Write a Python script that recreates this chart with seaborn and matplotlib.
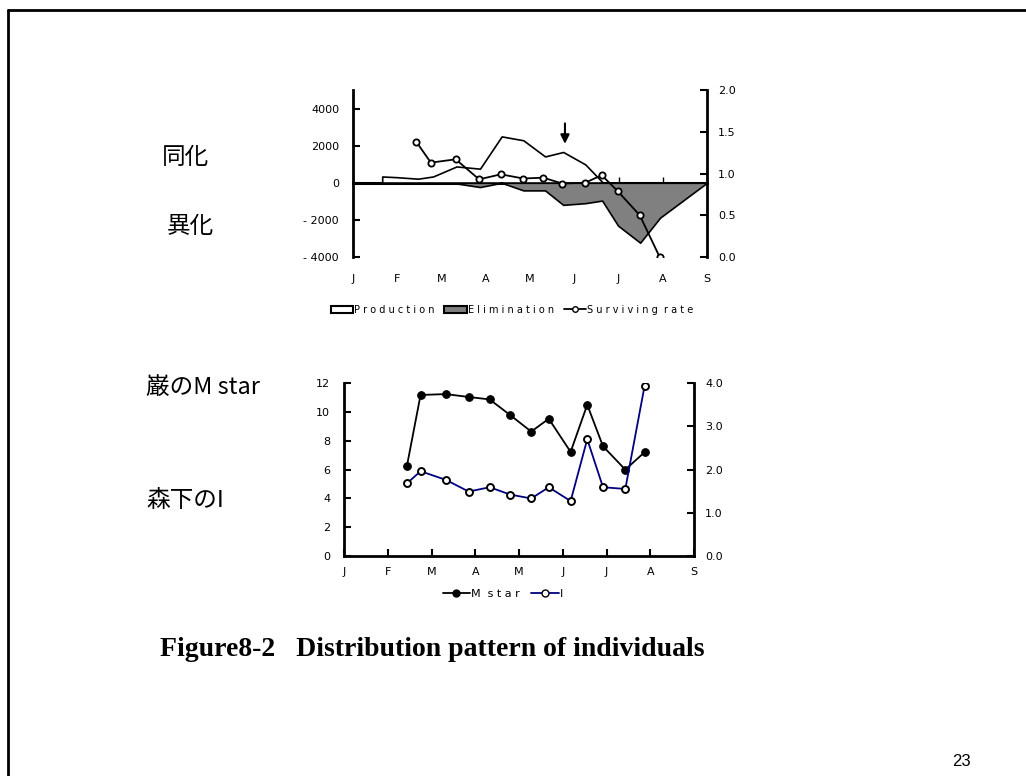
import numpy as np
import pandas as pd
import matplotlib
matplotlib.use("Agg")
import matplotlib.pyplot as plt
from matplotlib.patches import Patch
from matplotlib.lines import Line2D
from matplotlib import font_manager
import seaborn as sns

# ---------------- data ----------------
month_labels = ["J", "F", "M", "A", "M", "J", "J", "A", "S"]

prod_months = [0.66, 1.0, 1.47, 1.81, 2.34, 2.87, 3.36, 3.85, 4.34, 4.75, 5.25, 5.65, 8.0]
production = [340, 300, 220, 340, 880, 760, 2500, 2290, 1420, 1660, 990, 0, 0]

elim_months = [0.66, 2.35, 2.87, 3.36, 3.85, 4.34, 4.75, 5.25, 5.63, 5.99, 6.49, 6.94, 8.0]
elimination = [-40, -40, -230, 0, -410, -410, -1190, -1100, -960, -2310, -3230, -1880, 0]

surv_months = [1.43, 1.76, 2.32, 2.85, 3.34, 3.85, 4.30, 4.73, 5.25, 5.62, 5.98, 6.48, 6.93]
surviving_rate = [1.38, 1.13, 1.17, 0.93, 0.99, 0.94, 0.95, 0.88, 0.89, 0.98, 0.79, 0.50, 0.0]

arrow_month = 4.79
arrow_tip, arrow_tail = 2100, 3200

sample_months = [1.44, 1.75, 2.33, 2.85, 3.33, 3.80, 4.28, 4.68, 5.18, 5.56, 5.92, 6.43, 6.87]
m_star = [6.27, 11.17, 11.23, 11.03, 10.86, 9.77, 8.63, 9.52, 7.22, 10.49, 7.61, 5.99, 7.20]
i_index = [1.68, 1.96, 1.76, 1.49, 1.59, 1.42, 1.33, 1.59, 1.27, 2.70, 1.59, 1.55, 3.93]

top_left_ticks = [-4000, -2000, 0, 2000, 4000]
top_right_ticks = [0.0, 0.5, 1.0, 1.5, 2.0]
bot_left_ticks = [0, 2, 4, 6, 8, 10, 12]
bot_right_ticks = [0.0, 1.0, 2.0, 3.0, 4.0]

# ---------------- style ----------------
sns.set_style("white")
names = {f.name for f in font_manager.fontManager.ttflist}
narrow = "Liberation Sans Narrow" if "Liberation Sans Narrow" in names else "DejaVu Sans"
plt.rcParams['font.family'] = ["Noto Sans CJK JP", "DejaVu Sans"]
plt.rcParams['text.color'] = "black"
plt.rcParams['xtick.color'] = "black"
plt.rcParams['ytick.color'] = "black"
plt.rcParams['axes.labelcolor'] = "black"

W, H = 1026, 776
fig = plt.figure(figsize=(W / 100, H / 100), dpi=100)
fig.patch.set_facecolor("white")

def fx(px):
    return px / W

def fy(py):
    return 1 - py / H

def style_ticklabels(ax):
    for lab in ax.get_xticklabels() + ax.get_yticklabels():
        lab.set_fontfamily(narrow)
        lab.set_fontsize(8)
        lab.set_color("black")

# ---------------- top chart ----------------
ax1 = fig.add_axes([fx(353), fy(257), fx(707) - fx(353), fy(90) - fy(257)])
ax1.set_facecolor("none")
ax1.set_xlim(0, 8)
ax1.set_ylim(-4000, 5000)
ax1.fill_between(prod_months, 0, production, facecolor="white", edgecolor="black", linewidth=1.2, zorder=2)
ax1.fill_between(elim_months, 0, elimination, facecolor="#808080", edgecolor="black", linewidth=1.2, zorder=2)
ax1.annotate("", xy=(arrow_month, arrow_tip), xytext=(arrow_month, arrow_tail),
             arrowprops=dict(arrowstyle="-|>", color="black", lw=1.5, mutation_scale=13,
                             shrinkA=0, shrinkB=0), zorder=5)
for s in ["top", "bottom"]:
    ax1.spines[s].set_visible(False)
ax1.spines["left"].set_linewidth(2)
ax1.spines["left"].set_color("black")
ax1.spines["right"].set_visible(False)
ax1.set_yticks(top_left_ticks)
ax1.set_yticklabels([f"{v}" if v >= 0 else f"- {abs(v)}" for v in top_left_ticks])
ax1.set_xticks(range(len(month_labels)))
ax1.set_xticklabels(month_labels)
ax1.tick_params(axis="x", length=0, pad=12)
ax1.tick_params(axis="y", direction="in", length=5, width=1.5, left=True, pad=10)
style_ticklabels(ax1)

zero_frac = (0 - (-4000)) / (5000 - (-4000))
sec = ax1.secondary_xaxis(zero_frac)
sec.set_xticks(range(len(month_labels)))
sec.set_xticklabels([""] * len(month_labels))
sec.tick_params(axis="x", direction="in", length=4, width=1, top=False)
sec.spines["bottom"].set_linewidth(2.2)
sec.spines["bottom"].set_color("black")

ax1r = ax1.twinx()
ax1r.set_ylim(0, 2.0)
sns.lineplot(x=surv_months, y=surviving_rate, ax=ax1r, color="black", linewidth=1.3,
             marker="o", markersize=4.5, markerfacecolor="white", markeredgecolor="black",
             markeredgewidth=1.3, zorder=6)
ax1r.set_yticks(top_right_ticks)
ax1r.set_yticklabels([f"{v:.1f}" for v in top_right_ticks])
ax1r.tick_params(axis="y", direction="in", length=5, width=1.5, right=True, left=False, pad=8)
for s in ["top", "bottom", "left"]:
    ax1r.spines[s].set_visible(False)
ax1r.spines["right"].set_linewidth(2)
ax1r.spines["right"].set_color("black")
ax1r.set_ylabel("")
style_ticklabels(ax1r)

handles_top = [Patch(facecolor="white", edgecolor="black", linewidth=1.5),
               Patch(facecolor="#808080", edgecolor="black", linewidth=1.5),
               Line2D([0], [0], color="black", lw=1.3, marker="o", markersize=4,
                      markerfacecolor="white", markeredgecolor="black")]
fig.legend(handles_top, ["P r o d u c t i o n", "E l i m i n a t i o n", "S u r v i v i n g  r a t e"],
           loc="center", bbox_to_anchor=(fx(512), fy(310)), ncol=3, frameon=False,
           prop=dict(family=narrow, size=7), handlelength=2.3, handleheight=0.8,
           handletextpad=0.1, columnspacing=1.0, labelcolor="black")

# ---------------- bottom chart ----------------
ax2 = fig.add_axes([fx(344), fy(556), fx(694) - fx(344), fy(383) - fy(556)])
ax2.set_facecolor("none")
ax2.set_xlim(0, 8)
ax2.set_ylim(0, 12)
sns.lineplot(x=sample_months, y=m_star, ax=ax2, color="black", linewidth=1.3,
             marker="o", markersize=5.5, markerfacecolor="black", markeredgecolor="black", zorder=4)
ax2.set_yticks(bot_left_ticks)
ax2.set_xticks(range(len(month_labels)))
ax2.set_xticklabels(month_labels)
ax2.tick_params(axis="x", direction="in", length=5, width=1.5, bottom=True, pad=8)
ax2.tick_params(axis="y", direction="in", length=5, width=1.5, left=True, pad=10)
ax2.spines["top"].set_visible(False)
ax2.spines["right"].set_visible(False)
for s in ["left", "bottom"]:
    ax2.spines[s].set_linewidth(2)
    ax2.spines[s].set_color("black")
style_ticklabels(ax2)

ax2r = ax2.twinx()
ax2r.set_ylim(0, 4.0)
sns.lineplot(x=sample_months, y=i_index, ax=ax2r, color="#000080", linewidth=1.3,
             marker="o", markersize=5, markerfacecolor="white", markeredgecolor="black",
             markeredgewidth=1.4, zorder=5)
ax2r.set_yticks(bot_right_ticks)
ax2r.set_yticklabels([f"{v:.1f}" for v in bot_right_ticks])
ax2r.tick_params(axis="y", direction="in", length=5, width=1.5, right=True, left=False, pad=8)
for s in ["top", "bottom", "left"]:
    ax2r.spines[s].set_visible(False)
ax2r.spines["right"].set_linewidth(2)
ax2r.spines["right"].set_color("black")
ax2r.set_ylabel("")
style_ticklabels(ax2r)

handles_bot = [Line2D([0], [0], color="black", lw=1.3, marker="o", markersize=5,
                      markerfacecolor="black", markeredgecolor="black"),
               Line2D([0], [0], color="#000080", lw=1.3, marker="o", markersize=5,
                      markerfacecolor="white", markeredgecolor="black")]
fig.legend(handles_bot, ["M  s t a r", "I"], loc="center", bbox_to_anchor=(fx(503), fy(594)),
           ncol=2, frameon=False, prop=dict(family=narrow, size=8), handlelength=2.5,
           handletextpad=0.1, columnspacing=1.0, labelcolor="black")

# ---------------- side labels ----------------
cjk = ["Noto Sans CJK JP", "DejaVu Sans"]
fig.text(fx(162), fy(157), "同化", fontsize=17, family=cjk, va="center", ha="left", color="black")
fig.text(fx(167), fy(226), "異化", fontsize=17, family=cjk, va="center", ha="left", color="black")
fig.text(fx(146), fy(387), "巌のM star", fontsize=17, family=cjk, va="center", ha="left", color="black")
fig.text(fx(146), fy(500), "森下のI", fontsize=17, family=cjk, va="center", ha="left", color="black")

# ---------------- caption & page ----------------
fig.text(fx(160), fy(650), "Figure8-2   Distribution pattern of individuals", fontsize=20,
         family="Liberation Serif", weight="bold", va="center", ha="left", color="black")
fig.text(fx(961), fy(761), "23", fontsize=12, family="Liberation Sans", va="center", ha="center",
         color="black")

fig.add_artist(Line2D([fx(8), fx(8)], [0, fy(10)], color="black", lw=2))
fig.add_artist(Line2D([fx(8), 1], [fy(10), fy(10)], color="black", lw=2))

fig.savefig("out.png", dpi=100, facecolor="white")
